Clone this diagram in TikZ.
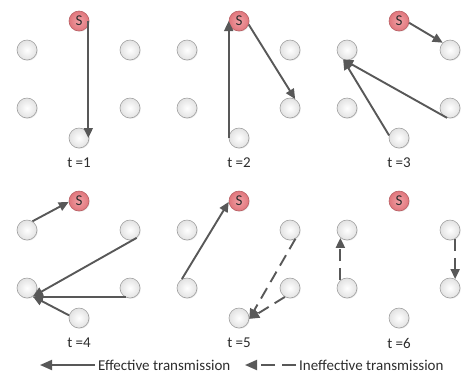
\documentclass[tikz,border=0pt]{standalone}
\usepackage{fontspec}
\setmainfont{Carlito}
\usetikzlibrary{arrows.meta,shadows}
\definecolor{arrowgray}{RGB}{88,88,88}
\definecolor{nodeborder}{RGB}{160,160,160}
\definecolor{nodeout}{RGB}{226,226,226}
\definecolor{spink}{RGB}{242,160,165}
\definecolor{sout}{RGB}{224,118,124}
\definecolor{sborder}{RGB}{185,95,100}
\definecolor{txt}{RGB}{45,45,45}
\newcommand\mkpanel[4]{%
  \begin{scope}[shift={(#2,#3)}]
    \node[src]  (S#1)  at (79,21)  {S};
    \node[peer] (LU#1) at (27,50)  {};
    \node[peer] (RU#1) at (130,50) {};
    \node[peer] (LL#1) at (27,108) {};
    \node[peer] (RL#1) at (130,108) {};
    \node[peer] (B#1)  at (79,138) {};
    \node[lbl]  (T#1)  at (79,163) {#4};
  \end{scope}}
\begin{document}
\begin{tikzpicture}[x=1pt,y=-1pt,
  peer/.style={circle,minimum size=20pt,inner sep=0pt,draw=nodeborder,line width=0.6pt,
    inner color=white,outer color=nodeout,
    drop shadow={shadow xshift=0.8pt,shadow yshift=-0.8pt,opacity=0.18}},
  src/.style={peer,draw=sborder,inner color=spink,outer color=sout,
    font=\fontsize{15}{15}\selectfont,text=txt},
  arr/.style={draw=arrowgray,line width=1.9pt,-{Triangle[length=10pt,width=9pt]}},
  ineff/.style={arr,dash pattern=on 12pt off 7pt},
  lbl/.style={font=\fontsize{15}{16}\selectfont,text=txt,inner sep=1pt}]
\useasboundingbox (0,0) rectangle (463,376);

\mkpanel{1}{0}{0}{t =1}
\mkpanel{2}{160}{0}{t =2}
\mkpanel{3}{320}{0}{t =3}
\mkpanel{4}{0}{180}{t =4}
\mkpanel{5}{160}{180}{t =5}
\mkpanel{6}{320}{180}{t =6}

% t=1
\draw[arr] ([xshift=-1pt]S1.east) -- ([xshift=-1pt]S1.east |- B1.center);
% t=2
\draw[arr] (B2.west) -- (B2.west |- S2.center);
\draw[arr] (S2.-20) -- (RL2.60);
% t=3
\draw[arr] (S3.-10) -- (RU3.135);
\draw[arr] (B3.165) -- (LU3.-112);
\draw[arr] (RL3.-107) -- (LU3.-112);
% t=4
\draw[arr] (LU4.58) -- (S4.185);
\draw[arr] (RU4.-50) -- (LL4.-55);
\draw[arr] (RL4.-115) -- (RL4.-115 -| LL4.-55);
\draw[arr] (B4.165) -- (LL4.-55);
% t=5
\draw[arr] (LL5.120) -- (S5.185);
\draw[ineff] (RU5.-58) -- (B5.-5);
\draw[ineff] (RL5.-120) -- (B5.-5);
% t=6
\draw[ineff] (LL6.130) -- (LL6.130 |- LU6.-130);
\draw[ineff] (RU6.-60) -- (RU6.-60 |- RL6.60);

% legend
\node[lbl,anchor=west] (effL) at (97,365) {Effective transmission};
\coordinate (effTip) at (40,365);
\draw[arr,-{Triangle[length=12pt,width=10pt]}] ([xshift=-2pt]effL.west) -- (effTip);
\node[lbl,anchor=west] (ineffL) at (298,365) {Ineffective transmission};
\coordinate (ineffTip) at (245,365);
\draw[arr,dash pattern=on 14pt off 7pt,-{Triangle[length=12pt,width=10pt]}] ([xshift=-2pt]ineffL.west) -- (ineffTip);
\end{tikzpicture}
\end{document}
